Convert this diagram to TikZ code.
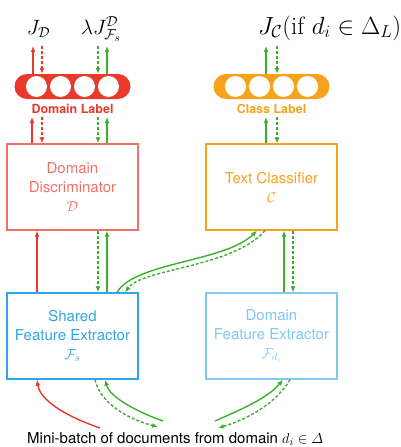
\documentclass[tikz,border=0pt]{standalone}
\usepackage{amsmath}
\usepackage{fontspec}
\setsansfont{TeX Gyre Heros}
\usetikzlibrary{arrows.meta}
\definecolor{dred}{HTML}{E8392B}
\definecolor{lred}{HTML}{F07068}
\definecolor{orng}{HTML}{F7A21B}
\definecolor{blu}{HTML}{2FA6E6}
\definecolor{lblu}{HTML}{7DC9F1}
\definecolor{grn}{HTML}{3BB02B}
\begin{document}
\begin{tikzpicture}[x=1pt,y=-1pt,
  box/.style={draw,line width=1.3pt,minimum width=131pt,minimum height=86pt,align=center,
    font=\sffamily\fontsize{15}{19}\selectfont,inner sep=0pt},
  pill/.style={rounded corners=12.5pt,minimum width=116pt,minimum height=25pt,inner sep=0pt},
  dot/.style={circle,fill=white,minimum size=21pt,inner sep=0pt},
  lab/.style={font=\sffamily\bfseries\fontsize{12.5}{14}\selectfont,inner sep=0pt},
  con/.style={line width=1.4pt,-{Latex[length=6pt,width=5pt]}},
  dsh/.style={dash pattern=on 3pt off 2pt},
  mth/.style={font=\fontsize{21}{24}\selectfont,inner sep=0pt},
]
\useasboundingbox (0,0) rectangle (401,447);

% top labels
\node[mth,anchor=base] (jd) at (38.5,34) {$J_{\mathcal{D}}$};
\node[mth,anchor=base] (jf) at (101,34) {$\lambda J^{\mathcal{D}}_{\mathcal{F}_s}$};
\node[mth,anchor=base west,font=\fontsize{25}{28}\selectfont] (jc) at (258,34) {$J_{\mathcal{C}}(\mathrm{if}\ d_i\in\Delta_L)$};

% pills
\node[pill,fill=dred] (dl) at (72.5,86.5) {};
\foreach \i/\dx in {1/-36,2/-12,3/12,4/36} \node[dot] (dl\i) at ([xshift=\dx pt]dl.center) {};
\node[pill,fill=orng] (cl) at (271.5,86.5) {};
\foreach \i/\dx in {1/-36,2/-12,3/12,4/36} \node[dot] (cl\i) at ([xshift=\dx pt]cl.center) {};
\node[lab,text=dred] (dlt) at (72.5,109) {Domain Label};
\node[lab,text=orng] (clt) at (271.5,109) {Class Label};

% boxes
\node[box,draw=lred,text=lred] (disc) at (72.5,187) {Domain\\Discriminator\\$\mathcal{D}$};
\node[box,draw=orng,text=orng] (tc) at (271.5,187) {Text Classifier\\$\mathcal{C}$};
\node[box,draw=blu,text=blu] (sfe) at (72.5,336) {Shared\\Feature Extractor\\$\mathcal{F}_s$};
\node[box,draw=lblu,text=lblu] (dfe) at (271.5,336) {Domain\\Feature Extractor\\$\mathcal{F}_{d_i}$};

\node[anchor=base west,font=\sffamily\fontsize{15}{18}\selectfont,inner sep=0pt] (mb) at (27,443)
  {Mini-batch of documents from domain $d_i \in \varDelta$};

% free ends
\coordinate (a1) at (33,46); \coordinate (a2) at (42,46);
\coordinate (a3) at (98,46); \coordinate (a4) at (107,46);
\coordinate (c1) at (266,46); \coordinate (c2) at (277,46);
\coordinate (b1) at (32,117); \coordinate (b2) at (42,117);
\coordinate (b3) at (98,117); \coordinate (b4) at (107,117);
\coordinate (d1) at (266,117); \coordinate (d2) at (277,117);
\coordinate (m1) at (100,428); \coordinate (m2) at (163,421); \coordinate (m3) at (158,427);
\coordinate (m4) at (215,421); \coordinate (m5) at (218,428);

% above pills
\draw[con,dred] (dl.north -| a1) -- (a1);
\draw[con,dred,dsh] (a2) -- (dl.north -| a2);
\draw[con,grn,dsh] (a3) -- (dl.north -| a3);
\draw[con,grn] (dl.north -| a4) -- (a4);
\draw[con,grn] (cl.north -| c1) -- (c1);
\draw[con,grn,dsh] (c2) -- (cl.north -| c2);

% labels to boxes
\draw[con,dred] (disc.north -| b1) -- (b1);
\draw[con,dred,dsh] (b2) -- (disc.north -| b2);
\draw[con,grn,dsh] (b3) -- (disc.north -| b3);
\draw[con,grn] (disc.north -| b4) -- (b4);
\draw[con,grn] (tc.north -| d1) -- (d1);
\draw[con,grn,dsh] (d2) -- (tc.north -| d2);

% between boxes
\draw[con,dred] ([xshift=-35.5pt]sfe.north) -- ([xshift=-35.5pt]disc.south);
\draw[con,grn,dsh] ([xshift=25.5pt]disc.south) -- ([xshift=25.5pt]sfe.north);
\draw[con,grn] ([xshift=34.5pt]sfe.north) -- ([xshift=34.5pt]disc.south);
\draw[con,grn] ([xshift=12.5pt]dfe.north) -- ([xshift=12.5pt]tc.south);
\draw[con,grn,dsh] ([xshift=21.5pt]tc.south) -- ([xshift=21.5pt]dfe.north);

% S curves
\draw[con,grn] ([xshift=44.5pt]sfe.north) .. controls (135,262) and (225,262) .. ([xshift=-14.5pt]tc.south);
\draw[con,grn,dsh] ([xshift=-6.5pt]tc.south) .. controls (232,268) and (143,268) .. ([xshift=52.5pt]sfe.north);

% bottom
\draw[con,dred] (m1) .. controls (65,416) and (40,400) .. ([xshift=-35.5pt]sfe.south);
\draw[con,grn] (m2) .. controls (140,413) and (110,398) .. ([xshift=32.5pt]sfe.south);
\draw[con,grn,dsh] ([xshift=22.5pt]sfe.south) .. controls (100,402) and (125,418) .. (m3);
\draw[con,grn] (m4) .. controls (240,410) and (268,398) .. ([xshift=11.5pt]dfe.south);
\draw[con,grn,dsh] ([xshift=18.5pt]dfe.south) .. controls (275,405) and (245,420) .. (m5);
\end{tikzpicture}
\end{document}
